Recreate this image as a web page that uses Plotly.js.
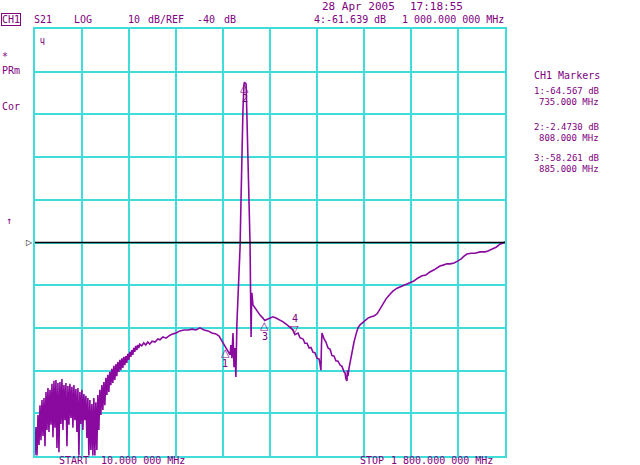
<!DOCTYPE html>
<html><head><meta charset="utf-8">
<script src="https://cdn.plot.ly/plotly-3.0.1.min.js"></script>
<style>html,body{margin:0;padding:0;background:#fff}#chart{width:640px;height:465px}</style>
</head><body><div id="chart"></div>
<script>
// Sweep: START 10 MHz, STOP 1800 MHz ; 10 dB/div, REF -40 dB
const startFreq = 10, stopFreq = 1800;
const refLevel = -40, dbPerDiv = 10;

// low-frequency noisy segment (MHz, dB)
const freqLow = [10,13.8,17.6,21.4,25.2,29,32.8,36.6,40.4,44.2,48,51.8,55.6,59.4,63.2,67,70.8,74.6,78.4,82.2,86,89.8,93.6,97.4,101.2,105,108.8,112.6,116.4,120.2,124,127.8,131.6,135.4,139.2,143,146.8,150.6,154.4,158.2,162,165.8,169.6,173.4,177.2,181,184.8,188.6,192.4,196.2,200,203.8,207.6,211.4,215.2,219,222.8,226.6,230.4,234.2,238,241.8,245.6,249.4,253.2,257,260.8,264.6,268.4,272.2,276,
279.8,283.6,287.4,291.2,295,298.8,302.6,306.4,310.2,314,317.8,321.6,325.4,329.2,333,336.8,340.6,344.4,348.2,352,355.8,359.6,363.4,367.2,371,374.8,378.6,382.4,386.2,390,393.8,397.6,401.4,405.2,409,416.6,424.2,431.8,439.4,447];
const dbLow = [-89.8,-83.2,-89.9,-80.4,-87.4,-78.1,-86.3,-76.9,-85.3,-76.4,-87.7,-75.0,-83.9,-74.1,-84.4,-74.5,-82.7,-73.1,-85.6,-72.4,-83.4,-72.2,-88.1,-72.9,-89.1,-72.7,-82.5,-72.0,-83.9,-73.4,-81.6,-72.9,-87.7,-73.6,-82.7,-73.1,-81.1,-73.8,-83.4,-73.4,-81.6,-74.3,-84.4,-74.1,-89.9,-75.0,-82.5,-74.5,-83.9,-75.5,-81.6,-75.9,-85.8,-76.4,-89.9,-76.9,-88.6,-77.8,-89.9,-76.4,-89.9,-77.4,-88.6,-75.7,-83.9,-74.5,-80.4,-73.4,-79.2,-72.7,-78.1,
-71.7,-75.7,-71.0,-75.0,-70.3,-73.4,-69.6,-72.9,-68.9,-72.2,-68.5,-71.3,-68.0,-70.3,-67.5,-69.9,-67.1,-69.4,-66.8,-68.7,-66.6,-68.2,-66.1,-67.5,-65.6,-66.8,-65.2,-66.3,-64.7,-65.6,-64.2,-65.2,-64.0,-64.7,-63.8,-64.2,-63.5,-64.0,-63.3,-63.8];

// passband / resonance segment
const freqMid = [456,467,478,486,497,509,524,536,547,562,577,593,608,623,638,654,669,684,699,711,722,730,737,745,753,756,760,764,768,772,775,779,783,787,791,795,798,802,806,808,814,817,821,825,829,831,833,835,836,840,848,859,867,878,885,897,905,916,928,943,955,970,981,993,1000,1012,1019,1031,1038,1046,1054,1061,1069,1076,1084,1092,1095,1099,1101,1103,1111,1118,1126,1134,1141,1149,1156,1164,1172,1179,1187,1191,1194,1198,1200,1202,1206,1210,1217,1225,1233,1240,1248,1255];
const dbMid = [-63.1,-63.3,-62.6,-62.8,-62.1,-62.4,-61.7,-61.4,-61.2,-60.7,-60.5,-60.5,-60.3,-60.5,-60.0,-60.5,-60.7,-61.2,-61.4,-61.9,-63.1,-64.0,-64.6,-65.6,-66.3,-64.0,-67.1,-61.2,-69.2,-64.7,-71.5,-58.9,-51.8,-46.4,-41.1,-28.9,-17.6,-9.0,-2.9,-2.47,-2.9,-9.7,-24.7,-32.9,-40.1,-51.8,-62.1,-53.5,-51.8,-54.6,-55.3,-56.5,-57.0,-57.7,-58.26,-57.9,-57.7,-57.4,-57.7,-58.2,-58.6,-59.3,-59.8,-60.5,-61.6,-61.2,-62.3,-62.6,-63.6,-63.6,-64.7,-64.6,-65.7,-65.8,-67.1,-67.3,-68.3,-69.9,-64.0,-61.2,-62.6,-63.3,-64.7,-65.0,-66.5,-66.6,-67.7,-67.8,-68.7,-69.0,-70.3,-70.6,-71.9,-72.4,-69.9,-71.3,-69.4,-68.0,-65.2,-63.3,-61.4,-60.0,-59.3,-58.9];

// upper-band segment
const freqHigh = [1267,1278,1290,1301,1313,1324,1335,1347,1362,1373,1389,1400,1415,1427,1438,1453,1469,1484,1499,1514,1530,1541,1552,1564,1579,1591,1606,1621,1632,1644,1655,1671,1686,1705,1724,1735,1751,1766,1781,1792,1800];
const dbHigh = [-58.2,-57.7,-57.4,-57.2,-56.7,-55.6,-54.2,-53.2,-52.1,-51.4,-50.7,-50.4,-50.0,-49.7,-49.5,-49.0,-48.3,-47.8,-47.6,-46.9,-46.4,-46.0,-45.5,-45.3,-45.0,-45.0,-44.8,-44.3,-43.9,-43.2,-42.7,-42.5,-42.5,-42.2,-42.2,-42.0,-41.5,-41.1,-40.4,-40.2,-39.9];

// markers
const markerNum = ['1','2','3','4'];
const markerFreq = [735, 808, 885, 1000];
const markerDb = [-64.567, -2.473, -58.261, -61.639];
const markerDbText = ['-64.567', '-2.4730', '-58.261', '-61.639'];
const markerFreqText = ['735.000', '808.000', '885.000', '1 000.000 000'];

const freq = freqLow.concat(freqMid, freqHigh);
const db = dbLow.concat(dbMid, dbHigh);

const PURPLE = '#800080';
const TRACE = '#8a0aa0';
const GRID = '#3fdcdc';
const FONT = 'DejaVu Sans Mono';

// plot box in pixels
const L = 35, R = 505, T = 29, B = 456;
function px(x){ return (x - L) / (R - L); }
function py(y){ return (B - y) / (B - T); }
function txt(text, x, y, opts){
  opts = opts || {};
  return Object.assign({
    text: text, xref: 'paper', yref: 'paper', x: px(x), y: py(y),
    xanchor: opts.xa || 'left', yanchor: opts.ya || 'middle', showarrow: false,
    font: {family: FONT, size: opts.size || 10, color: PURPLE}
  }, opts.extra || {});
}

const bottomOpts = {extra: {borderpad: 0}};
const ann = [
  txt('28 Apr 2005', 320, 7, {size: 11}),
  txt('17:18:55', 408, 7, {size: 11}),
  txt('CH1', 1, 20, {extra: {bordercolor: PURPLE, borderwidth: 1, borderpad: 0}}),
  txt('S21', 32, 20),
  txt('LOG', 72, 20),
  txt(String(dbPerDiv), 126, 20),
  txt('dB/REF', 146, 20),
  txt(String(refLevel), 195, 20),
  txt('dB', 222, 20),
  txt(markerNum[3] + ':' + markerDbText[3], 312, 20),
  txt('dB', 372, 20),
  txt(markerFreqText[3] + ' MHz', 400, 20),
  txt('*', 0, 57),
  txt('PRm', 0, 70),
  txt('Cor', 0, 107),
  txt('↑', 4, 220),
  txt('Ч', 38, 42, {size: 8}),
  txt('CH1 Markers', 532, 75),
  txt('START', 58, 460.5, bottomOpts),
  txt(startFreq.toFixed(3) + ' 000 MHz', 100, 460.5, bottomOpts),
  txt('STOP', 359, 460.5, bottomOpts),
  txt('1 800.000 000 MHz', 390, 460.5, bottomOpts)
];
const readoutY = [96.5, 132, 163];
for (let i = 0; i < 3; i++) {
  ann.push(txt(markerNum[i] + ':' + markerDbText[i] + ' dB', 601, readoutY[i] - 5.5, {xa: 'right', size: 9}));
  ann.push(txt(markerFreqText[i] + ' MHz', 601, readoutY[i] + 6, {xa: 'right', size: 9}));
}
// marker triangles on the trace
for (let i = 0; i < 4; i++) {
  const up = i < 3;
  ann.push({
    text: up ? '△' : '▽', x: markerFreq[i], y: markerDb[i], xref: 'x', yref: 'y',
    xanchor: 'center', yanchor: up ? 'top' : 'bottom', yshift: up ? 3 : -3, showarrow: false,
    font: {family: 'DejaVu Sans', size: 11, color: PURPLE}
  });
  ann.push({
    text: markerNum[i], x: markerFreq[i], y: markerDb[i], xref: 'x', yref: 'y',
    xanchor: 'center', yanchor: up ? 'top' : 'bottom', yshift: up ? -9 : 9, showarrow: false,
    font: {family: FONT, size: 10, color: PURPLE}
  });
}
// reference level symbol
ann.push({text: '▷', xref: 'paper', x: 0, y: refLevel, yref: 'y', xanchor: 'right', yanchor: 'middle',
  showarrow: false, font: {family: 'DejaVu Sans', size: 8, color: '#000'}});

const trace = {
  x: freq, y: db, type: 'scatter', mode: 'lines',
  line: {color: TRACE, width: 1.6}, hoverinfo: 'skip'
};

const axisCommon = {
  showgrid: true, gridcolor: GRID, gridwidth: 2, zeroline: false,
  showline: true, mirror: true, linecolor: GRID, linewidth: 2,
  ticks: '', showticklabels: false, fixedrange: true
};

const layout = {
  width: 640, height: 465,
  margin: {l: L, r: 640 - R, t: T, b: 465 - B, pad: 0},
  paper_bgcolor: '#fff', plot_bgcolor: '#fff', showlegend: false,
  xaxis: Object.assign({range: [startFreq, stopFreq], tick0: startFreq, dtick: (stopFreq - startFreq) / 10}, axisCommon),
  yaxis: Object.assign({range: [refLevel - 5 * dbPerDiv, refLevel + 5 * dbPerDiv], tick0: refLevel, dtick: dbPerDiv}, axisCommon),
  shapes: [{type: 'line', xref: 'x', yref: 'y', x0: startFreq, x1: stopFreq, y0: refLevel, y1: refLevel,
    line: {color: '#000', width: 1.5}}],
  annotations: ann
};

Plotly.newPlot('chart', [trace], layout, {staticPlot: true, displayModeBar: false});
</script>
</body></html>
